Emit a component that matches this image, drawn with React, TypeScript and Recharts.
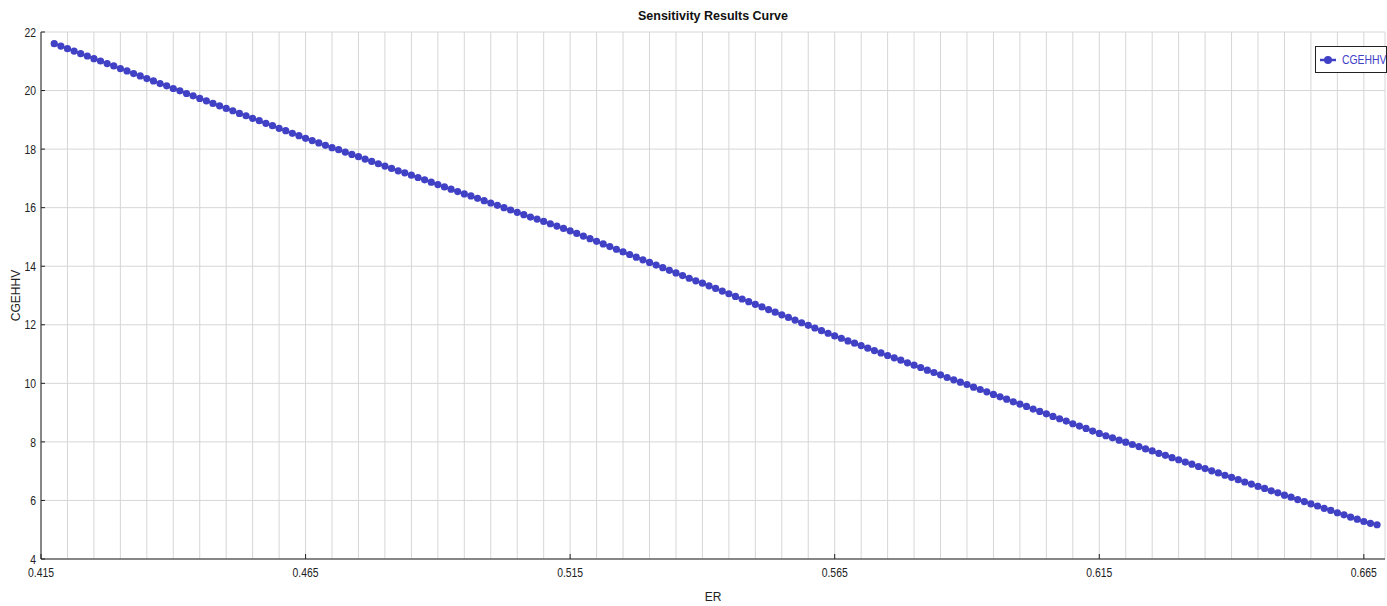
import { CartesianGrid, Line, LineChart, XAxis, YAxis } from "recharts";

const erValues = [
  0.4175, 0.41875, 0.42, 0.42125, 0.4225, 0.42375, 0.425, 0.42625, 0.4275, 0.42875, 0.43, 0.43125,
  0.4325, 0.43375, 0.435, 0.43625, 0.4375, 0.43875, 0.44, 0.44125, 0.4425, 0.44375, 0.445, 0.44625,
  0.4475, 0.44875, 0.45, 0.45125, 0.4525, 0.45375, 0.455, 0.45625, 0.4575, 0.45875, 0.46, 0.46125,
  0.4625, 0.46375, 0.465, 0.46625, 0.4675, 0.46875, 0.47, 0.47125, 0.4725, 0.47375, 0.475, 0.47625,
  0.4775, 0.47875, 0.48, 0.48125, 0.4825, 0.48375, 0.485, 0.48625, 0.4875, 0.48875, 0.49, 0.49125,
  0.4925, 0.49375, 0.495, 0.49625, 0.4975, 0.49875, 0.5, 0.50125, 0.5025, 0.50375, 0.505, 0.50625,
  0.5075, 0.50875, 0.51, 0.51125, 0.5125, 0.51375, 0.515, 0.51625, 0.5175, 0.51875, 0.52, 0.52125,
  0.5225, 0.52375, 0.525, 0.52625, 0.5275, 0.52875, 0.53, 0.53125, 0.5325, 0.53375, 0.535, 0.53625,
  0.5375, 0.53875, 0.54, 0.54125, 0.5425, 0.54375, 0.545, 0.54625, 0.5475, 0.54875, 0.55, 0.55125,
  0.5525, 0.55375, 0.555, 0.55625, 0.5575, 0.55875, 0.56, 0.56125, 0.5625, 0.56375, 0.565, 0.56625,
  0.5675, 0.56875, 0.57, 0.57125, 0.5725, 0.57375, 0.575, 0.57625, 0.5775, 0.57875, 0.58, 0.58125,
  0.5825, 0.58375, 0.585, 0.58625, 0.5875, 0.58875, 0.59, 0.59125, 0.5925, 0.59375, 0.595, 0.59625,
  0.5975, 0.59875, 0.6, 0.60125, 0.6025, 0.60375, 0.605, 0.60625, 0.6075, 0.60875, 0.61, 0.61125,
  0.6125, 0.61375, 0.615, 0.61625, 0.6175, 0.61875, 0.62, 0.62125, 0.6225, 0.62375, 0.625, 0.62625,
  0.6275, 0.62875, 0.63, 0.63125, 0.6325, 0.63375, 0.635, 0.63625, 0.6375, 0.63875, 0.64, 0.64125,
  0.6425, 0.64375, 0.645, 0.64625, 0.6475, 0.64875, 0.65, 0.65125, 0.6525, 0.65375, 0.655, 0.65625,
  0.6575, 0.65875, 0.66, 0.66125, 0.6625, 0.66375, 0.665, 0.66625, 0.6675,
];

const cgehhvValues = [
  21.6, 21.52, 21.43, 21.35, 21.26, 21.18, 21.09, 21.01, 20.92, 20.84, 20.75, 20.67,
  20.58, 20.5, 20.41, 20.33, 20.24, 20.16, 20.07, 19.99, 19.9, 19.82, 19.73, 19.65,
  19.56, 19.48, 19.39, 19.31, 19.22, 19.14, 19.05, 18.97, 18.88, 18.8, 18.71, 18.63,
  18.54, 18.46, 18.37, 18.29, 18.21, 18.13, 18.05, 17.98, 17.9, 17.82, 17.74, 17.66,
  17.58, 17.5, 17.42, 17.34, 17.26, 17.19, 17.11, 17.03, 16.95, 16.87, 16.79, 16.71,
  16.63, 16.55, 16.47, 16.4, 16.32, 16.24, 16.16, 16.08, 16.0, 15.92, 15.84, 15.76,
  15.68, 15.61, 15.53, 15.45, 15.37, 15.29, 15.21, 15.12, 15.03, 14.94, 14.85, 14.76,
  14.67, 14.58, 14.49, 14.4, 14.31, 14.22, 14.13, 14.04, 13.95, 13.86, 13.77, 13.68,
  13.59, 13.5, 13.42, 13.33, 13.24, 13.15, 13.06, 12.97, 12.88, 12.79, 12.7, 12.61,
  12.52, 12.43, 12.34, 12.25, 12.16, 12.07, 11.98, 11.89, 11.8, 11.71, 11.62, 11.54,
  11.45, 11.37, 11.29, 11.2, 11.12, 11.04, 10.95, 10.87, 10.79, 10.7, 10.62, 10.54,
  10.45, 10.37, 10.29, 10.2, 10.12, 10.04, 9.96, 9.87, 9.79, 9.71, 9.62, 9.54,
  9.46, 9.37, 9.29, 9.21, 9.12, 9.04, 8.96, 8.87, 8.79, 8.71, 8.62, 8.54,
  8.46, 8.37, 8.29, 8.21, 8.14, 8.06, 7.99, 7.91, 7.84, 7.76, 7.69, 7.61,
  7.54, 7.46, 7.39, 7.31, 7.24, 7.16, 7.09, 7.01, 6.94, 6.86, 6.79, 6.71,
  6.63, 6.56, 6.48, 6.41, 6.33, 6.26, 6.18, 6.11, 6.03, 5.96, 5.88, 5.81,
  5.73, 5.66, 5.58, 5.51, 5.43, 5.36, 5.28, 5.22, 5.17,
];

const xLabelTicks = [0.415, 0.465, 0.515, 0.565, 0.615, 0.665];
const xGridTicks = [
  0.415, 0.42, 0.425, 0.43, 0.435, 0.44, 0.445, 0.45, 0.455, 0.46, 0.465, 0.47, 0.475,
  0.48, 0.485, 0.49, 0.495, 0.5, 0.505, 0.51, 0.515, 0.52, 0.525, 0.53, 0.535, 0.54,
  0.545, 0.55, 0.555, 0.56, 0.565, 0.57, 0.575, 0.58, 0.585, 0.59, 0.595, 0.6, 0.605,
  0.61, 0.615, 0.62, 0.625, 0.63, 0.635, 0.64, 0.645, 0.65, 0.655, 0.66, 0.665,
];
const yTicks = [4, 6, 8, 10, 12, 14, 16, 18, 20, 22];

const data = erValues.map((er, i) => ({ er, cgehhv: cgehhvValues[i] }));

const SERIES = "#4141c6";
const SANS = '"Liberation Sans", Arial, sans-serif';

// narrow-looking tick text: regular sans squeezed horizontally
function XTick({ x, y, payload }: any) {
  return (
    <text
      transform={`translate(${x},${y}) scale(0.8,1)`}
      textAnchor="middle"
      dy="0.71em"
      fontSize={13}
      fontFamily={SANS}
      fill="#222"
    >
      {payload.value}
    </text>
  );
}

function YTick({ x, y, payload }: any) {
  return (
    <text
      transform={`translate(${x},${y}) scale(0.8,1)`}
      textAnchor="end"
      dy="0.355em"
      fontSize={13}
      fontFamily={SANS}
      fill="#222"
    >
      {payload.value}
    </text>
  );
}

function LegendBox() {
  return (
    <div
      style={{
        position: "absolute",
        left: 1315,
        top: 46,
        width: 70,
        height: 25,
        display: "flex",
        alignItems: "center",
        border: "1px solid #222",
        background: "#fff",
        fontFamily: SANS,
        fontSize: 13,
        color: SERIES,
        overflow: "hidden",
      }}
    >
      <svg width={23} height={10} style={{ marginLeft: 3, flexShrink: 0 }}>
        <line x1={1} y1={5} x2={17} y2={5} stroke={SERIES} strokeWidth={2.5} />
        <circle cx={9} cy={5} r={4} fill={SERIES} />
      </svg>
      <span style={{ display: "inline-block", transform: "scaleX(0.8)", transformOrigin: "left center", whiteSpace: "nowrap" }}>
        CGEHHV
      </span>
    </div>
  );
}

export default function App() {
  return (
    <div style={{ position: "absolute", left: 0, top: 0, width: 1387, height: 606, background: "#fff" }}>
      <div
        style={{
          position: "absolute",
          left: 41,
          top: 8,
          width: 1344,
          textAlign: "center",
          fontFamily: SANS,
          fontWeight: "bold",
          fontSize: 12.5,
          lineHeight: "16px",
          color: "#111",
        }}
      >
        Sensitivity Results Curve
      </div>
      <LineChart width={1387} height={606} data={data} margin={{ top: 32, right: 2, bottom: 0, left: 0 }}>
        <CartesianGrid xAxisId="grid" stroke="#d6d6d6" strokeWidth={1} />
        <XAxis
          xAxisId="main"
          dataKey="er"
          type="number"
          domain={[0.415, 0.669]}
          ticks={xLabelTicks}
          interval={0}
          height={47}
          stroke="#222"
          tickSize={-5}
          tickMargin={14}
          tick={<XTick />}
          label={{
            content: ({ viewBox }: any) => (
              <text
                x={viewBox.x + viewBox.width / 2}
                y={601}
                textAnchor="middle"
                fontSize={12}
                fontFamily={SANS}
                fill="#222"
              >
                ER
              </text>
            ),
          }}
        />
        <XAxis
          xAxisId="grid"
          dataKey="er"
          type="number"
          domain={[0.415, 0.669]}
          ticks={xGridTicks}
          interval={0}
          height={0}
          hide
        />
        <YAxis
          domain={[4, 22]}
          ticks={yTicks}
          interval={0}
          width={41}
          stroke="#222"
          tickSize={-4}
          tickMargin={9}
          tick={<YTick />}
          label={{
            content: ({ viewBox }: any) => {
              const cy = viewBox.y + viewBox.height / 2;
              return (
                <text
                  x={20}
                  y={cy}
                  transform={`rotate(-90 20 ${cy})`}
                  textAnchor="middle"
                  fontSize={12}
                  fontFamily={SANS}
                  fill="#222"
                >
                  CGEHHV
                </text>
              );
            },
          }}
        />
        <Line
          xAxisId="main"
          dataKey="cgehhv"
          name="CGEHHV"
          stroke={SERIES}
          strokeWidth={2}
          dot={{ r: 3.6, fill: SERIES, stroke: SERIES, strokeWidth: 0 }}
          activeDot={false}
          isAnimationActive={false}
          type="linear"
        />
      </LineChart>
      <LegendBox />
    </div>
  );
}
